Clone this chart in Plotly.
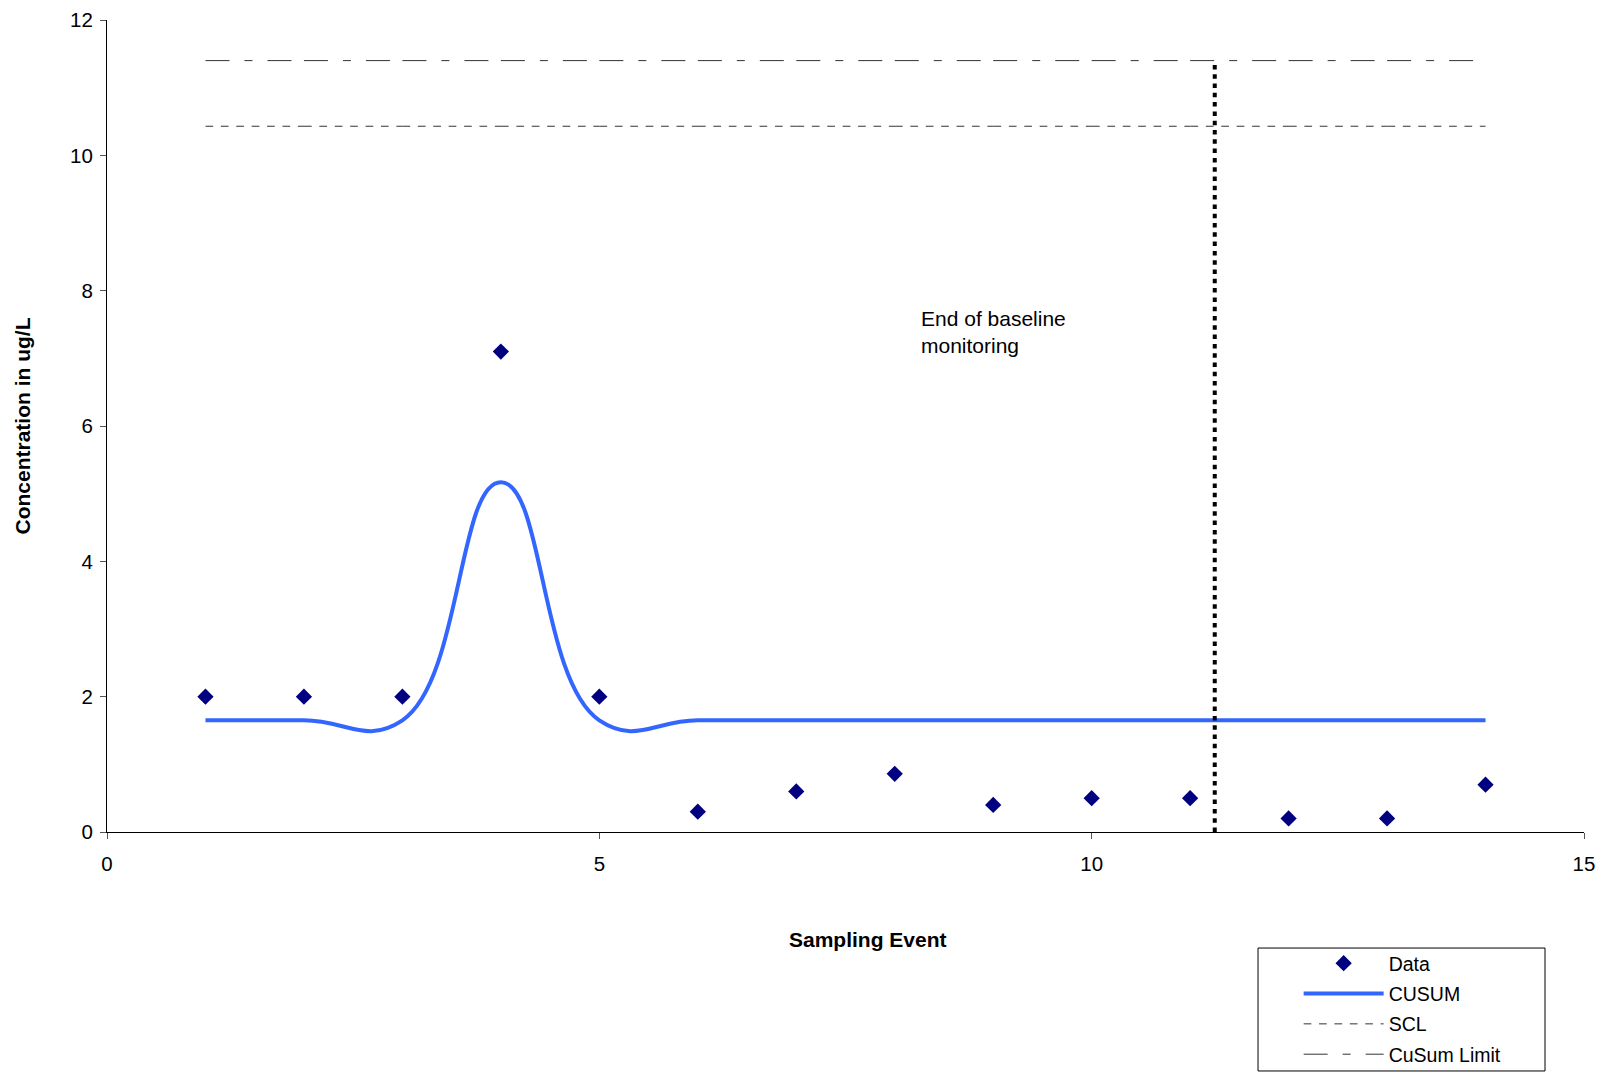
import plotly.graph_objects as go

# ---- data ----
sampling_event = [1, 2, 3, 4, 5, 6, 7, 8, 9, 10, 11, 12, 13, 14]
data_values = [2.0, 2.0, 2.0, 7.1, 2.0, 0.3, 0.6, 0.86, 0.4, 0.5, 0.5, 0.2, 0.2, 0.7]
cusum_values = [1.65, 1.65, 1.65, 5.17, 1.65, 1.65, 1.65, 1.65, 1.65, 1.65, 1.65, 1.65, 1.65, 1.65]
scl_values = [10.43, 10.43, 10.43, 10.43, 10.43, 10.43, 10.43, 10.43, 10.43, 10.43, 10.43, 10.43, 10.43, 10.43]
cusum_limit_values = [11.4, 11.4, 11.4, 11.4, 11.4, 11.4, 11.4, 11.4, 11.4, 11.4, 11.4, 11.4, 11.4, 11.4]
baseline_end_x = [11.25, 11.25]
baseline_end_y = [0, 11.34]
x_tick_values = [0, 5, 10, 15]
y_tick_values = [0, 2, 4, 6, 8, 10, 12]
annotation_text = "End of baseline<br>monitoring"
annotation_pos = [8.25, 7.79]

FONT = "Arial, Liberation Sans, sans-serif"

fig = go.Figure()

fig.add_trace(go.Scatter(
    x=sampling_event, y=data_values, mode="markers", name="Data",
    legendgroup="g1",
    marker=dict(symbol="diamond", size=12.5, color="#000080", line=dict(width=0)),
))
fig.add_trace(go.Scatter(
    x=sampling_event, y=cusum_values, mode="lines", name="CUSUM",
    legendgroup="g2",
    line=dict(color="#3366FF", width=4, shape="spline", smoothing=1.3),
))
fig.add_trace(go.Scatter(
    x=sampling_event, y=scl_values, mode="lines", name="SCL",
    legendgroup="g3",
    line=dict(color="#333333", width=1,
              dash="7.7px,7.7px,7.7px,7.7px,7.7px,7.7px,7.7px,7.7px,7.7px,7.7px,7.7px,7.7px,6.1px,0px"),
))
fig.add_trace(go.Scatter(
    x=sampling_event, y=cusum_limit_values, mode="lines", name="CuSum Limit",
    legendgroup="g4",
    line=dict(color="#333333", width=1, dash="24px,15px,8px,15px,24px,12.47px"),
))
fig.add_trace(go.Scatter(
    x=baseline_end_x, y=baseline_end_y, mode="lines", showlegend=False,
    line=dict(color="#000000", width=4, dash="4.5px,4.8px"),
    hoverinfo="skip",
))

fig.add_annotation(
    x=annotation_pos[0], y=annotation_pos[1], xref="x", yref="y",
    text=annotation_text, showarrow=False, xanchor="left", yanchor="top",
    align="left", font=dict(family=FONT, size=21, color="#000000"),
)
fig.add_annotation(
    x=0.515, y=-0.1318, xref="paper", yref="paper",
    text="Sampling Event", showarrow=False, xanchor="center", yanchor="middle",
    font=dict(family=FONT, size=21, color="#000000", weight="bold"),
)

# legend frame
fig.add_shape(type="rect", xref="paper", yref="paper",
              x0=0.7793, x1=0.9736, y0=-0.2943, y1=-0.1429,
              line=dict(color="#000000", width=1), fillcolor="rgba(0,0,0,0)")

fig.update_layout(
    width=1602, height=1072,
    margin=dict(l=107, r=18, t=20, b=240, autoexpand=False),
    paper_bgcolor="white", plot_bgcolor="white",
    font=dict(family=FONT, size=20, color="#000000"),
    showlegend=True,
    legend=dict(
        x=0.8068, y=-0.1379, xanchor="left", yanchor="top",
        bgcolor="rgba(0,0,0,0)", borderwidth=0,
        font=dict(family=FONT, size=19.5, color="#000000"),
        itemwidth=80, traceorder="grouped", tracegroupgap=2,
    ),
    xaxis=dict(
        range=[0, 15], tickmode="array", tickvals=x_tick_values,
        showgrid=False, zeroline=False, showline=True, linecolor="#000000", linewidth=1,
        ticks="outside", ticklen=6, tickcolor="#555555", tickwidth=1,
        ticklabelstandoff=7,
        tickfont=dict(family=FONT, size=20.5, color="#000000"),
        automargin=False,
    ),
    yaxis=dict(
        range=[0, 12], tickmode="array", tickvals=y_tick_values,
        showgrid=False, zeroline=False, showline=True, linecolor="#000000", linewidth=1,
        ticks="outside", ticklen=6, tickcolor="#555555", tickwidth=1,
        ticklabelstandoff=3,
        tickfont=dict(family=FONT, size=20.5, color="#000000"),
        title=dict(text="Concentration in ug/L", standoff=33,
                   font=dict(family=FONT, size=21, color="#000000", weight="bold")),
        automargin=False,
    ),
)

fig.write_html("out.html", config={"displayModeBar": False},
               post_script="document.body.style.margin='0';")
